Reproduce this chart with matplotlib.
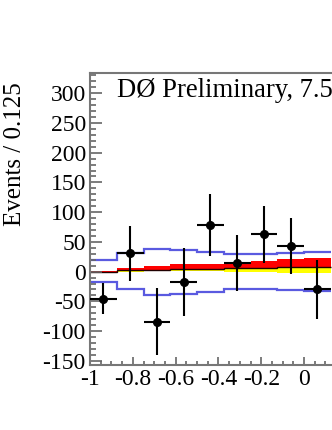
import matplotlib
matplotlib.use("Agg")
import matplotlib.pyplot as plt
import numpy as np
from matplotlib.ticker import MultipleLocator, FixedLocator, FuncFormatter

plt.rcParams['font.family'] = ['Liberation Serif', 'DejaVu Serif']
plt.rcParams['axes.unicode_minus'] = False

# bins
bin_edges = np.round(np.arange(-1.0, 0.126, 0.125), 4)
bin_centers = 0.5 * (bin_edges[:-1] + bin_edges[1:])

data_y = [-46, 31, -85, -17, 78, 14, 63, 43, -30]
err_up = [27, 46, 58, 57, 53, 48, 47, 47, 49]
err_down = [26, 46, 55, 57, 52, 47, 49, 47, 49]

band_upper = [19, 31, 38.5, 36, 33, 29, 30, 32, 33]
band_lower = [-18, -29, -39, -37, -35, -30, -30, -31, -33]

line_mid = [0, 2, 3, 4, 5, 5.5, 6, 7, 7.5]
red_top = [1, 6, 9, 12, 13, 16, 18.5, 21.5, 23]
yellow_bottom = [0, 0, 0.5, 0.5, 0.5, 0, -1, -1.5, -2]

x_tick_values = [-1, -0.8, -0.6, -0.4, -0.2, 0]

W, H = 332, 430
fig = plt.figure(figsize=(W / 100, H / 100), dpi=100)
left, top, bottom = 90, 73, 365
ax = fig.add_axes([left / W, 1 - bottom / H, 428 / W, (bottom - top) / H])

ax.set_xlim(-1, 1)
ax.set_ylim(-157, 334)

ax.stairs(line_mid, bin_edges, baseline=yellow_bottom, fill=True, color='#ffff00', lw=0)
ax.stairs(red_top, bin_edges, baseline=line_mid, fill=True, color='#ff0000', lw=0)
ax.stairs(line_mid, bin_edges, baseline=None, color='#200000', lw=1)

ax.stairs(band_upper, bin_edges, baseline=None, color='#5a5ae0', lw=1.6)
ax.stairs(band_lower, bin_edges, baseline=None, color='#5a5ae0', lw=1.6)

ax.errorbar(bin_centers, data_y, xerr=0.0625, yerr=[err_down, err_up], fmt='o',
            color='black', ms=5.5, elinewidth=1.5, capsize=0, zorder=5)

for s in ax.spines.values():
    s.set_color('#777777')
    s.set_linewidth(1.5)

ax.xaxis.set_major_locator(FixedLocator(x_tick_values))
ax.xaxis.set_minor_locator(MultipleLocator(0.05))
ax.yaxis.set_major_locator(MultipleLocator(50))
ax.yaxis.set_minor_locator(MultipleLocator(10))
ax.tick_params(axis='both', which='both', direction='in', colors='#666666',
               labelcolor='black', labelsize=17, width=1.2)
ax.tick_params(axis='y', which='major', length=8.5, pad=3)
ax.tick_params(axis='y', which='minor', length=4.3)
ax.tick_params(axis='x', which='major', length=6, pad=3)
ax.tick_params(axis='x', which='minor', length=3)
ax.tick_params(top=False, right=False, which='both')

ax.xaxis.set_major_formatter(FuncFormatter(lambda v, p: '%g' % round(v, 6)))
ax.yaxis.set_major_formatter(FuncFormatter(lambda v, p: '%d' % round(v)))

fig.text(15 / W, 1 - 154 / H, 'Events / 0.125', rotation=90, ha='center', va='center', fontsize=18)
fig.text(117 / W, 1 - 97 / H, 'DØ Preliminary, 7.5', ha='left', va='baseline', fontsize=19.2)

fig.savefig('out.png', dpi=100)
